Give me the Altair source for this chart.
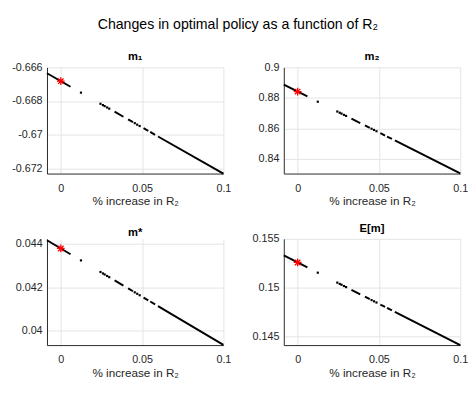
import altair as alt
import pandas as pd

# Shared x positions (% increase in R2)
seg_x_start = [-0.0085, 0.0331, 0.0414, 0.0509, 0.0550, 0.0598]
seg_x_end = [0.0060, 0.0385, 0.0444, 0.0538, 0.0580, 0.1000]
dot_x = [0.0124, 0.0244, 0.0259, 0.0270, 0.0285, 0.0298, 0.0455, 0.0470, 0.0485]
star_x = 0.0

x_ticks = [0, 0.05, 0.1]
x_domain = [-0.0085, 0.1]

# m1
m1_seg_start = [-0.66635, -0.66863, -0.66909, -0.66961, -0.66983, -0.67010]
m1_seg_end = [-0.66715, -0.66893, -0.66925, -0.66977, -0.67000, -0.67230]
m1_dots = [-0.66750, -0.66816, -0.66824, -0.66830, -0.66838, -0.66845, -0.66931, -0.66940, -0.66948]
m1_star = -0.66682
m1_ticks = [-0.672, -0.670, -0.668, -0.666]
m1_domain = [-0.6723, -0.666]

# m2
m2_seg_start = [0.88866, 0.86636, 0.86191, 0.85682, 0.85462, 0.85205]
m2_seg_end = [0.88088, 0.86346, 0.86030, 0.85526, 0.85301, 0.83050]
m2_dots = [0.87745, 0.87102, 0.87022, 0.86963, 0.86882, 0.86813, 0.85971, 0.85891, 0.85810]
m2_star = 0.8841
m2_ticks = [0.84, 0.86, 0.88, 0.90]
m2_domain = [0.8303, 0.9]

# m*
ms_seg_start = [0.044156, 0.042317, 0.041950, 0.041530, 0.041349, 0.041137]
ms_seg_end = [0.043515, 0.042078, 0.041818, 0.041402, 0.041216, 0.039360]
ms_dots = [0.043232, 0.042702, 0.042635, 0.042587, 0.042520, 0.042463, 0.041769, 0.041703, 0.041636]
ms_star = 0.04378
ms_ticks = [0.040, 0.042, 0.044]
ms_domain = [0.03935, 0.04422]

# E[m]
em_seg_start = [0.15330, 0.14977, 0.14907, 0.14826, 0.14792, 0.14751]
em_seg_end = [0.15207, 0.14931, 0.14881, 0.14802, 0.14766, 0.14410]
em_dots = [0.15153, 0.15051, 0.15038, 0.15029, 0.15016, 0.15005, 0.14872, 0.14859, 0.14847]
em_star = 0.15258
em_ticks = [0.145, 0.150, 0.155]
em_domain = [0.1441, 0.155]

FONT = "Liberation Sans"
TXT = "#262626"
ASTERISK = "M-1,0L1,0M0,-1L0,1M-0.7,-0.7L0.7,0.7M-0.7,0.7L0.7,-0.7"
LABEL = "replace(format(datum.value, '~g'), '\u2212', '-')"


def panel(title, seg_y0, seg_y1, dots_y, star_y, y_domain, y_ticks):
    xs = alt.Scale(domain=x_domain, nice=False, zero=False)
    ys = alt.Scale(domain=y_domain, nice=False, zero=False)
    xaxis = alt.Axis(values=x_ticks, title="% increase in R₂",
                     labelFlush=False, labelExpr=LABEL)
    yaxis = alt.Axis(values=y_ticks, title=None, labelExpr=LABEL)
    seg_df = pd.DataFrame({"x0": seg_x_start, "x1": seg_x_end, "y0": seg_y0, "y1": seg_y1})
    dot_df = pd.DataFrame({"x": dot_x, "y": dots_y})
    star_df = pd.DataFrame({"x": [star_x], "y": [star_y]})
    rules = alt.Chart(seg_df).mark_rule(color="black", strokeWidth=2).encode(
        x=alt.X("x0:Q", scale=xs, axis=xaxis),
        x2="x1:Q",
        y=alt.Y("y0:Q", scale=ys, axis=yaxis),
        y2="y1:Q",
    )
    dots = alt.Chart(dot_df).mark_square(color="black", size=5, opacity=1).encode(
        x=alt.X("x:Q", scale=xs, axis=xaxis),
        y=alt.Y("y:Q", scale=ys, axis=yaxis),
    )
    star = alt.Chart(star_df).mark_point(shape=ASTERISK, color="red", size=64,
                                         strokeWidth=1.3, filled=False, opacity=1).encode(
        x=alt.X("x:Q", scale=xs, axis=xaxis),
        y=alt.Y("y:Q", scale=ys, axis=yaxis),
    )
    return alt.layer(rules, dots, star).properties(
        width=181, height=109,
        title=alt.TitleParams(title, fontSize=11.5, fontWeight="bold", offset=-1,
                              color="black", font=FONT),
    )


p1 = panel("m₁", m1_seg_start, m1_seg_end, m1_dots, m1_star, m1_domain, m1_ticks)
p2 = panel("m₂", m2_seg_start, m2_seg_end, m2_dots, m2_star, m2_domain, m2_ticks)
p3 = panel("m*", ms_seg_start, ms_seg_end, ms_dots, ms_star, ms_domain, ms_ticks)
p4 = panel("E[m]", em_seg_start, em_seg_end, em_dots, em_star, em_domain, em_ticks)

chart = alt.concat(p1, p2, p3, p4, columns=2, spacing={"row": 67, "column": 62},
                   bounds="flush").properties(
    title=alt.TitleParams("Changes in optimal policy as a function of R₂", fontSize=14.5,
                          fontWeight="normal", anchor="middle", offset=19, color="black",
                          font=FONT),
    padding={"left": 0, "top": 5, "right": 0, "bottom": 0},
).configure_view(stroke=None).configure_axis(
    labelFont=FONT, labelFontSize=11, labelColor=TXT,
    titleFont=FONT, titleFontSize=12, titleColor=TXT, titleFontWeight="normal",
    domainColor=TXT, domainWidth=1, tickSize=0, gridColor="#e3e3e3", gridWidth=1,
    grid=True,
).configure_axisX(labelPadding=9, titlePadding=3).configure_axisY(
    labelPadding=5, minExtent=40, maxExtent=40)

chart.save("out.html", embed_options={"renderer": "svg", "actions": False})
